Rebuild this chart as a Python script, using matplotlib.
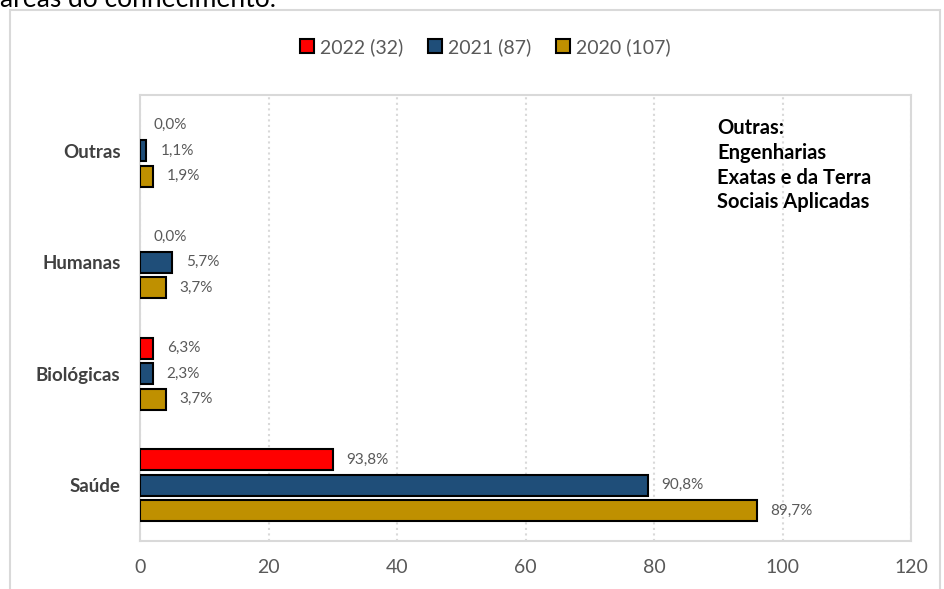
import matplotlib.pyplot as plt
from matplotlib.patches import Patch, Rectangle

# data
categories = ['Saúde', 'Biológicas', 'Humanas', 'Outras']
series_names = ['2022 (32)', '2021 (87)', '2020 (107)']
values_2022 = [30, 2, 0, 0]
values_2021 = [79, 2, 5, 1]
values_2020 = [96, 4, 4, 2]
pct_2022 = ['93,8%', '6,3%', '0,0%', '0,0%']
pct_2021 = ['90,8%', '2,3%', '5,7%', '1,1%']
pct_2020 = ['89,7%', '3,7%', '3,7%', '1,9%']
xticks = [0, 20, 40, 60, 80, 100, 120]
note_text = 'Outras:\nEngenharias\nExatas e da Terra\nSociais Aplicadas'

colors = ['#FF0000', '#1F4E79', '#BF9000']
grid_gray = '#D9D9D9'

plt.rcParams['font.family'] = ['Lato', 'DejaVu Sans']

fig = plt.figure(figsize=(9.44, 5.89), dpi=100)
ax = fig.add_axes([140/944, 1-541/589, (911-140)/944, (541-95)/589])

# outer chart frame (bottom is cut off in the reference)
fig.patches.append(Rectangle((10/944, -0.2), 930/944, 1.2 - 10/589, transform=fig.transFigure,
                             fill=False, edgecolor=grid_gray, linewidth=1.5))
# cut-off text from the page above the chart
fig.text(0.0, 1 - 7/589, 'áreas do conhecimento.', fontsize=19, color='black', va='baseline', ha='left')

step = 0.228
offsets = [step, 0, -step]
all_vals = [values_2022, values_2021, values_2020]
all_pcts = [pct_2022, pct_2021, pct_2020]
ypos = list(range(len(categories)))

for s in range(3):
    ys = [y + offsets[s] for y in ypos]
    lws = [1.5 if v > 0 else 0 for v in all_vals[s]]
    ax.barh(ys, all_vals[s], height=0.19, color=colors[s], edgecolor='black', linewidth=lws, zorder=3)
    for y, v, p in zip(ys, all_vals[s], all_pcts[s]):
        ax.annotate(p, xy=(v, y), xytext=(10, 0), textcoords='offset points',
                    ha='left', va='center', fontsize=11, color='#595959')

ax.set_xlim(0, 120)
ax.set_ylim(-0.5, 3.5)
ax.set_xticks(xticks)
ax.set_xticklabels([str(t) for t in xticks])
ax.set_yticks(ypos)
ax.set_yticklabels(categories, fontweight='bold', fontsize=13.5, color='#404040')
ax.tick_params(axis='x', length=0, pad=13, labelsize=14, labelcolor='#595959')
ax.tick_params(axis='y', length=0, pad=14)
ax.grid(axis='x', color=grid_gray, linestyle=':', linewidth=1.5, zorder=0)
for sp in ax.spines.values():
    sp.set_color(grid_gray)
    sp.set_linewidth(1.5)

ax.text(717/944, 1 - 118/589, note_text, transform=fig.transFigure, fontsize=14.5,
        fontweight='bold', color='black', va='top', ha='left', linespacing=1.3)

handles = [Patch(facecolor=c, edgecolor='black', linewidth=1.5) for c in colors]
fig.legend(handles, series_names, loc='center', bbox_to_anchor=(0.514, 1 - 47/589), ncol=3,
           frameon=False, fontsize=14, labelcolor='#595959', handlelength=0.7, handleheight=0.7,
           handletextpad=0.3, columnspacing=1.3)

fig.savefig('out.png', dpi=100)
